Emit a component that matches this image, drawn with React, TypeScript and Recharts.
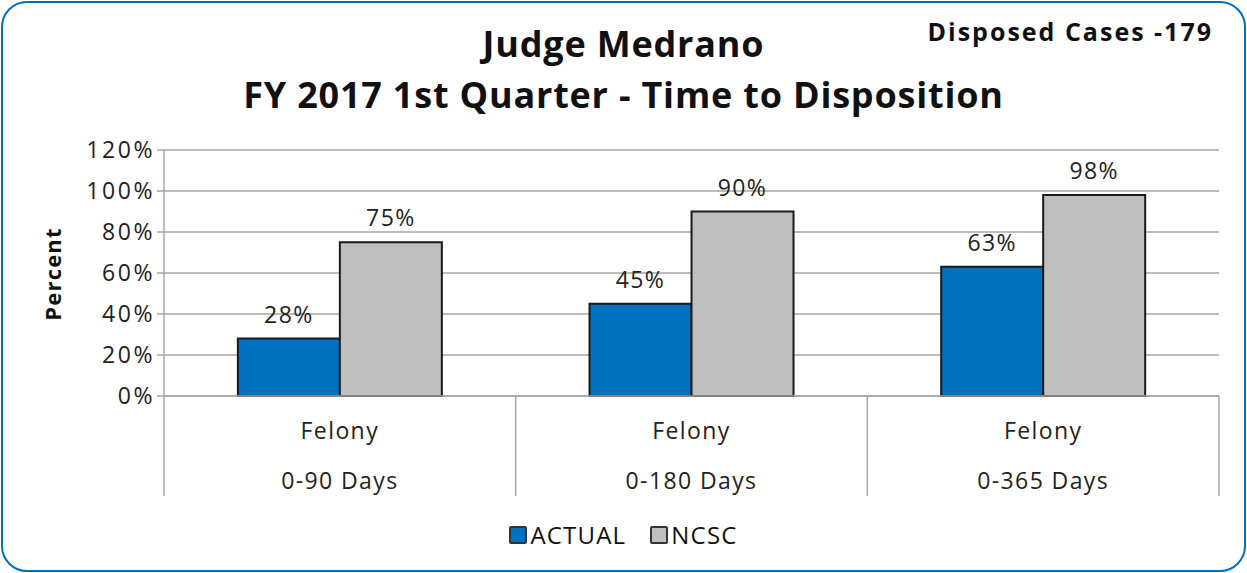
import React from "react";
import {
  BarChart,
  Bar,
  XAxis,
  YAxis,
  CartesianGrid,
  LabelList,
} from "recharts";

const categories = ["Felony|0-90 Days", "Felony|0-180 Days", "Felony|0-365 Days"];
const actual = [28, 45, 63];
const ncsc = [75, 90, 98];
const yTicks = [0, 20, 40, 60, 80, 100, 120];

const data = categories.map((c, i) => ({ name: c, ACTUAL: actual[i], NCSC: ncsc[i] }));

const W = 1247;
const H = 573;
const PLOT_LEFT = 164;
const PLOT_RIGHT = 1219;
const BAND = (PLOT_RIGHT - PLOT_LEFT) / categories.length;

const FONT = "'Open Sans', 'DejaVu Sans', sans-serif";
const TEXT_STYLE = { fontSize: 23, fill: "#222", fontFamily: FONT, letterSpacing: 1.4 };

function CategoryTick(props: any) {
  const { x, y, payload, index } = props;
  const [l1, l2] = String(payload.value).split("|");
  const left = x - BAND / 2;
  const right = x + BAND / 2;
  return (
    <g>
      <line x1={left} y1={y - 8} x2={left} y2={y + 92} stroke="#a6a6a6" strokeWidth={1.5} />
      {index === categories.length - 1 && (
        <line x1={right} y1={y - 8} x2={right} y2={y + 92} stroke="#a6a6a6" strokeWidth={1.5} />
      )}
      <text x={x} y={y + 35} textAnchor="middle" style={TEXT_STYLE}>
        {l1}
      </text>
      <text x={x} y={y + 85} textAnchor="middle" style={TEXT_STYLE}>
        {l2}
      </text>
    </g>
  );
}

export default function App() {
  return (
    <div style={{ position: "absolute", left: 0, top: 0, width: W, height: H, background: "#fff", fontFamily: FONT }}>
      <div
        style={{
          position: "absolute",
          left: 1,
          top: 1,
          width: W - 2,
          height: H - 2,
          boxSizing: "border-box",
          border: "2px solid #0070C0",
          borderRadius: 26,
        }}
      />
      <div
        style={{
          position: "absolute",
          left: 0,
          width: W,
          top: 18,
          textAlign: "center",
          fontWeight: 700,
          fontSize: 36,
          letterSpacing: 0.8,
          lineHeight: "51px",
          color: "#111",
        }}
      >
        Judge Medrano
        <br />
        FY 2017 1st Quarter - Time to Disposition
      </div>
      <div
        style={{
          position: "absolute",
          right: 34,
          top: 14,
          fontWeight: 700,
          fontSize: 25,
          letterSpacing: 2,
          color: "#111",
        }}
      >
        Disposed Cases -179
      </div>
      <div
        style={{
          position: "absolute",
          left: 52,
          top: 274,
          transform: "translate(-50%, -50%) rotate(-90deg)",
          fontWeight: 700,
          fontSize: 22,
          letterSpacing: 1.2,
          color: "#111",
        }}
      >
        Percent
      </div>
      <div style={{ position: "absolute", left: 0, top: 0 }}>
        <BarChart
          width={W}
          height={H}
          data={data}
          margin={{ top: 150, right: W - PLOT_RIGHT, bottom: 77, left: 0 }}
          barGap={0}
          barCategoryGap="21%"
        >
          <CartesianGrid vertical={false} stroke="#a6a6a6" strokeWidth={1.5} />
          <XAxis
            dataKey="name"
            height={100}
            axisLine={{ stroke: "#a6a6a6", strokeWidth: 1.5 }}
            tickLine={false}
            tick={<CategoryTick />}
            interval={0}
          />
          <YAxis
            width={PLOT_LEFT}
            domain={[0, 120]}
            ticks={yTicks}
            interval={0}
            tickFormatter={(v: number) => `${v}%`}
            axisLine={{ stroke: "#a6a6a6", strokeWidth: 1.5 }}
            tickLine={{ stroke: "#a6a6a6", strokeWidth: 1.5 }}
            tickSize={7}
            tick={{ ...TEXT_STYLE, letterSpacing: 2.6 }}
          />
          <Bar dataKey="ACTUAL" fill="#0070C0" stroke="#1a1a1a" strokeWidth={2} isAnimationActive={false}>
            <LabelList
              dataKey="ACTUAL"
              position="top"
              offset={16}
              formatter={(v: any) => `${v}%`}
              style={TEXT_STYLE}
            />
          </Bar>
          <Bar dataKey="NCSC" fill="#BFBFBF" stroke="#1a1a1a" strokeWidth={2} isAnimationActive={false}>
            <LabelList
              dataKey="NCSC"
              position="top"
              offset={16}
              formatter={(v: any) => `${v}%`}
              style={TEXT_STYLE}
            />
          </Bar>
        </BarChart>
      </div>
      <div
        style={{
          position: "absolute",
          left: 0,
          width: W,
          top: 518,
          display: "flex",
          justifyContent: "center",
          alignItems: "center",
          gap: 24,
          fontSize: 24,
          letterSpacing: 1.2,
          color: "#111",
        }}
      >
        {[
          { name: "ACTUAL", color: "#0070C0" },
          { name: "NCSC", color: "#BFBFBF" },
        ].map((s) => (
          <span key={s.name} style={{ display: "flex", alignItems: "center", gap: 3 }}>
            <span
              style={{
                display: "inline-block",
                width: 14,
                height: 14,
                background: s.color,
                border: "2px solid #333",
                borderRadius: 2,
              }}
            />
            {s.name}
          </span>
        ))}
      </div>
    </div>
  );
}
